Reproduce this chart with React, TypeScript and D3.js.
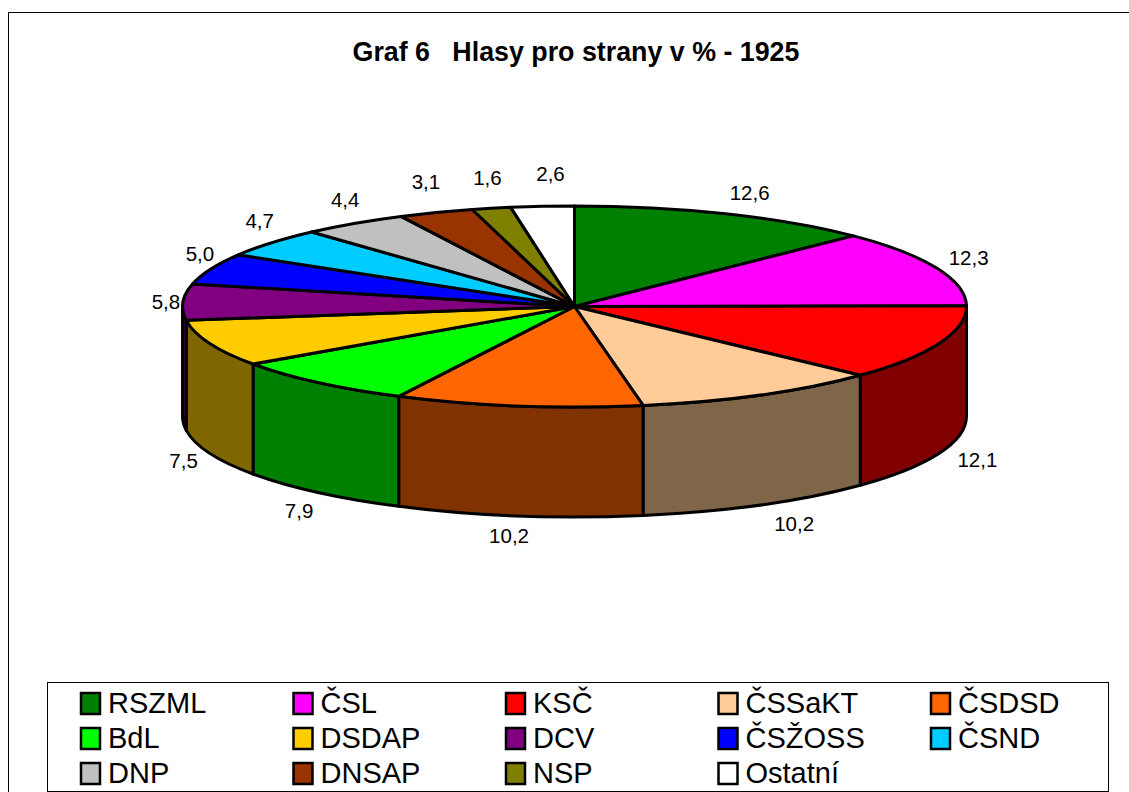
import React from "react";
import * as d3 from "d3";

const parties = ["RSZML","ČSL","KSČ","ČSSaKT","ČSDSD","BdL","DSDAP","DCV","ČSŽOSS","ČSND","DNP","DNSAP","NSP","Ostatní"];
const shares = [12.6,12.3,12.1,10.2,10.2,7.9,7.5,5.8,5.0,4.7,4.4,3.1,1.6,2.6];
const shareLabels = ["12,6","12,3","12,1","10,2","10,2","7,9","7,5","5,8","5,0","4,7","4,4","3,1","1,6","2,6"];
const topColors = ["#008000","#FF00FF","#FF0000","#FFCC99","#FF6600","#00FF00","#FFCC00","#800080","#0000FF","#00CCFF","#C0C0C0","#993300","#808000","#FFFFFF"];
const sideColors = ["#004000","#800080","#800000","#806648","#803300","#008000","#806600","#400040","#000080","#006680","#606060","#4C1A00","#404000","#808080"];
const labelNudges: [number, number][] = [[24,-21],[32,-11],[38,6],[33,19],[-9,20],[-19,18],[-26,7],[-17,-1],[-11,-15],[-12,-22],[-9,-24],[-10,-31],[-4,-31],[8,-33]];

const CX = 574.5, CY = 306.5, RX = 392, RY = 100.5, DEPTH = 110;
const FONT = "'Liberation Sans', Arial, sans-serif";

export default function App() {
  const arcs = d3.pie<number>().sort(null).value((d) => d)(shares);
  const pt = (a: number, dy = 0): [number, number] => [CX + RX * Math.sin(a), CY - RY * Math.cos(a) + dy];
  const sector = (a0: number, a1: number) => {
    const p0 = pt(a0), p1 = pt(a1);
    const large = a1 - a0 > Math.PI ? 1 : 0;
    return `M${CX},${CY}L${p0[0]},${p0[1]}A${RX},${RY} 0 ${large} 1 ${p1[0]},${p1[1]}Z`;
  };
  const side = (a0: number, a1: number) => {
    const s0 = Math.max(a0, Math.PI / 2), s1 = Math.min(a1, Math.PI * 1.5);
    if (s1 <= s0) return null;
    const p0 = pt(s0), p1 = pt(s1), q1 = pt(s1, DEPTH), q0 = pt(s0, DEPTH);
    return `M${p0[0]},${p0[1]}A${RX},${RY} 0 0 1 ${p1[0]},${p1[1]}L${q1[0]},${q1[1]}A${RX},${RY} 0 0 0 ${q0[0]},${q0[1]}Z`;
  };
  const legendCols = d3.scalePoint<number>().domain(d3.range(5)).range([80, 930]);
  const legendRows = d3.scalePoint<number>().domain(d3.range(3)).range([703, 773]);

  return (
    <svg width={1129} height={792} style={{ position: "absolute", left: 0, top: 0, background: "#fff" }} fontFamily={FONT}>
      <path d="M1129,12.5H8.5V792" fill="none" stroke="#000" strokeWidth={1} />
      <text x={576} y={61} textAnchor="middle" fontSize={26.8} fontWeight="bold" style={{ whiteSpace: "pre" }}>{"Graf 6   Hlasy pro strany v % - 1925"}</text>
      <g stroke="#000" strokeWidth={3} strokeLinejoin="round">
        {arcs.map((a, i) => {
          const d = side(a.startAngle, a.endAngle);
          return d ? <path key={i} d={d} fill={sideColors[i]} /> : null;
        })}
        {arcs.map((a, i) => (
          <path key={i} d={sector(a.startAngle, a.endAngle)} fill={topColors[i]} />
        ))}
      </g>
      {arcs.map((a, i) => {
        const mid = (a.startAngle + a.endAngle) / 2;
        const lower = Math.cos(mid) < 0;
        const [x, y] = pt(mid, lower ? DEPTH : 0);
        return (
          <text key={i} x={x + labelNudges[i][0]} y={y + labelNudges[i][1]} textAnchor="middle" dominantBaseline="central" fontSize={20.5}>
            {shareLabels[i]}
          </text>
        );
      })}
      <rect x={47.5} y={682.5} width={1061} height={109} fill="#fff" stroke="#000" strokeWidth={1} />
      {parties.map((p, i) => {
        const x = legendCols(i % 5)!, y = legendRows(Math.floor(i / 5))!;
        return (
          <g key={p}>
            <rect x={x + 1} y={y - 10} width={19} height={21} fill={topColors[i]} stroke="#000" strokeWidth={2.5} />
            <text x={x + 28} y={y} dominantBaseline="central" fontSize={29}>{p}</text>
          </g>
        );
      })}
    </svg>
  );
}
